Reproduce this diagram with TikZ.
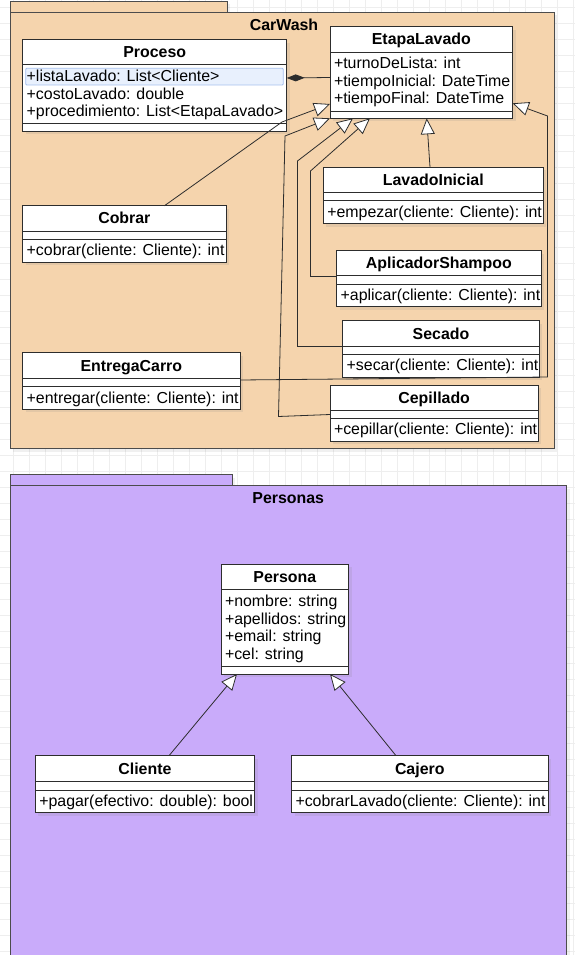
\documentclass[tikz,border=0pt]{standalone}
\usepackage{fontspec}
\setmainfont{Liberation Sans}
\usetikzlibrary{arrows.meta, shadows}
\definecolor{carwashfill}{RGB}{245,212,173}
\definecolor{personasfill}{RGB}{201,171,250}
\definecolor{gridgray}{RGB}{238,238,238}
\definecolor{rowblue}{RGB}{232,240,253}
\definecolor{rowborder}{RGB}{165,192,238}
\definecolor{linegray}{RGB}{45,45,45}
% #1 name, #2 left, #3 top, #4 right, #5 header line, #6 divider, #7 bottom, #8 title
\newcommand{\umlclass}[8]{%
    \node[classbox, minimum width=#4-#2, minimum height=#7-#3] (#1) at ({(#2+#4)/2}, {(#3+#7)/2}) {};
    \node[classtitle] (#1-title) at ({(#2+#4)/2}, {(#3+#5)/2+5.5}) {#8};
    \draw[classline] (#2,#5) -- (#4,#5);
    \draw[classline] (#2,#6) -- (#4,#6);
}

\begin{document}
\begin{tikzpicture}[
    x=1pt,
    y=-1pt,
    font=\fontsize{15.9}{17.6}\selectfont,
    every node/.style={inner sep=0pt, outer sep=0pt},
    gridline/.style={draw=gridgray, line width=0.6pt},
    pkgbox/.style={draw=linegray!85, line width=0.9pt, drop shadow={shadow xshift=3pt, shadow yshift=-3pt, opacity=0.12}},
    pkgtitle/.style={anchor=base, font=\fontsize{15.9}{17.6}\selectfont\bfseries},
    classbox/.style={draw=linegray, line width=0.9pt, fill=white, drop shadow={shadow xshift=3pt, shadow yshift=-3pt, opacity=0.15}},
    classline/.style={draw=linegray, line width=0.9pt},
    classtitle/.style={anchor=base, font=\fontsize{15.9}{17.6}\selectfont\bfseries},
    member/.style={anchor=base west},
    inherit/.style={draw=linegray, line width=0.8pt, -{Triangle[open, fill=white, length=16pt, width=14pt]}},
    compose/.style={draw=linegray, line width=0.8pt, -{Diamond[length=18pt, width=7pt]}}
]
    \useasboundingbox (0,0) rectangle (575,955);
    \clip (0,0) rectangle (575,955);

    % background grid
    \foreach \gx in {13,29,...,573} \draw[gridline] (\gx,0) -- (\gx,955);
    \foreach \gy in {7,23,...,953} \draw[gridline] (0,\gy) -- (575,\gy);

    % packages
    \node[pkgbox, fill=carwashfill, minimum width=217, minimum height=10.5] (carwash-tab) at (118.5,6.75) {};
    \node[pkgbox, fill=carwashfill, minimum width=544, minimum height=436.5] (carwash) at (282,230.25) {};
    \node[pkgtitle] (carwash-title) at (284,30.7) {CarWash};

    \node[pkgbox, fill=personasfill, minimum width=222.3, minimum height=11] (personas-tab) at (121.15,480) {};
    \node[pkgbox, fill=personasfill, minimum width=556.5, minimum height=475] (personas) at (288.25,723) {};
    \node[pkgtitle] (personas-title) at (288.25,503.5) {Personas};

    % CarWash classes
    \umlclass{proceso}{22.7}{39.7}{286.7}{64.7}{123.7}{131}{Proceso}
    \draw[fill=rowblue, draw=rowborder, line width=0.8pt, rounded corners=1pt] (25.7,68.3) rectangle (283.3,85);
    \node[member] (proceso-a1) at (26.7,81.7) {+listaLavado: List<Cliente>};
    \node[member] (proceso-a2) at (26.7,99.3) {+costoLavado: double};
    \node[member] (proceso-a3) at (26.7,116.9) {+procedimiento: List<EtapaLavado>};

    \umlclass{etapa}{330}{26.7}{512.7}{52}{111.3}{118.3}{EtapaLavado}
    \node[member] (etapa-a1) at (334,68.5) {+turnoDeLista: int};
    \node[member] (etapa-a2) at (334,86.1) {+tiempoInicial: DateTime};
    \node[member] (etapa-a3) at (334,103.7) {+tiempoFinal: DateTime};

    \umlclass{inicial}{323.3}{167.3}{543.3}{192.3}{200.7}{223.7}{LavadoInicial}
    \node[member] (inicial-m1) at (327.3,217.2) {+empezar(cliente: Cliente): int};

    \umlclass{cobrar}{22.7}{205.7}{226}{231}{239.3}{262.3}{Cobrar}
    \node[member] (cobrar-m1) at (26.7,255.8) {+cobrar(cliente: Cliente): int};

    \umlclass{shampoo}{336.7}{250.7}{541}{275.7}{284}{306.7}{AplicadorShampoo}
    \node[member] (shampoo-m1) at (340.7,300.5) {+aplicar(cliente: Cliente): int};

    \umlclass{secado}{342.7}{320.7}{539.3}{346.7}{354}{377.3}{Secado}
    \node[member] (secado-m1) at (346.7,370.5) {+secar(cliente: Cliente): int};

    \umlclass{entrega}{22.7}{352.7}{240}{378.3}{386.7}{409.3}{EntregaCarro}
    \node[member] (entrega-m1) at (26.7,403.2) {+entregar(cliente: Cliente): int};

    \umlclass{cepillado}{330}{385}{538.3}{410}{418.3}{441}{Cepillado}
    \node[member] (cepillado-m1) at (334,434.8) {+cepillar(cliente: Cliente): int};

    % Personas classes
    \umlclass{persona}{221}{564.3}{348.7}{589.3}{666.7}{674}{Persona}
    \node[member] (persona-a1) at (225,606.5) {+nombre: string};
    \node[member] (persona-a2) at (225,624.1) {+apellidos: string};
    \node[member] (persona-a3) at (225,641.7) {+email: string};
    \node[member] (persona-a4) at (225,659.3) {+cel: string};

    \umlclass{cliente}{35.3}{755.7}{254.5}{781.7}{790}{812.7}{Cliente}
    \node[member] (cliente-m1) at (39.3,806.5) {+pagar(efectivo: double): bool};

    \umlclass{cajero}{291.5}{755.7}{548}{781.7}{790}{812.7}{Cajero}
    \node[member] (cajero-m1) at (295.5,806.5) {+cobrarLavado(cliente: Cliente): int};

    % connectors
    \draw[compose] (etapa.west |- 0,77.5) -- (proceso.east |- 0,78);
    \draw[inherit] (inicial.north -| 430,0) -- (etapa.south -| 426.7,0);
    \draw[inherit] (cobrar.north -| 164.5,0) -- (282,122) -- (etapa.west |- 0,104);
    \draw[inherit] (shampoo.west |- 0,276.5) -| (310.5,171) -- (etapa.south -| 370,0);
    \draw[inherit] (secado.west |- 0,346.5) -| (297.5,161) -- (etapa.south -| 353,0);
    \draw[inherit] (cepillado.west |- 0,414.5) -- (278.5,416.5) -- (285,136) -- (etapa.south west);
    \draw[inherit] (entrega.east |- 0,380) -- (547.5,377) -- (547.5,116) -- (etapa.east |- 0,103.3);
    \draw[inherit] (cliente.north -| 169,0) -- (persona.south -| 237,0);
    \draw[inherit] (cajero.north -| 396,0) -- (persona.south -| 330,0);
\end{tikzpicture}
\end{document}
